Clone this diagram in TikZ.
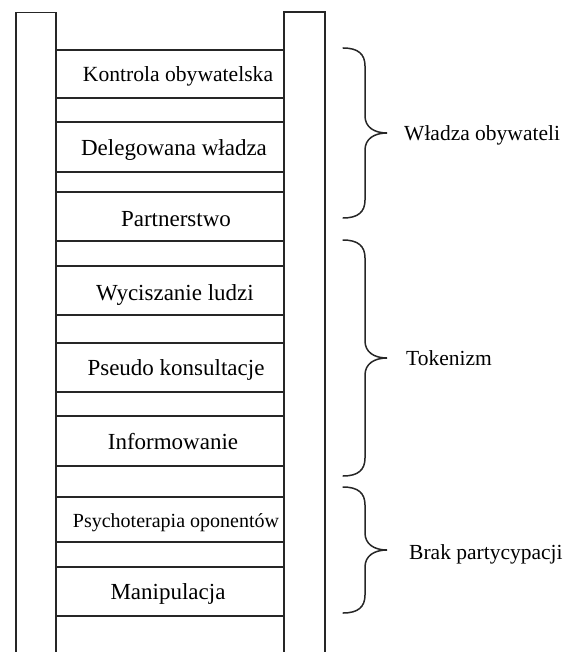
\documentclass[tikz,border=0pt]{standalone}
\usepackage{fontspec}
\setmainfont{Liberation Serif}
\newcommand{\bracedraw}[4]{% x-left, top, tip, bottom
  \draw[brace] (#1,#2) .. controls ({#1+15},#2) and ({#1+22},{#2+6}) .. ({#1+22},{#2+18})
    -- ({#1+22},{#3-17}) .. controls ({#1+22},{#3-6}) and ({#1+31},#3) .. ({#1+44},#3)
    .. controls ({#1+31},#3) and ({#1+22},{#3+6}) .. ({#1+22},{#3+17})
    -- ({#1+22},{#4-18}) .. controls ({#1+22},{#4-6}) and ({#1+15},#4) .. (#1,#4);}
\begin{document}
\begin{tikzpicture}[x=1pt,y=-1pt,
  rail/.style={draw=black!85, line width=1.3pt},
  rungbox/.style={draw=black!85, line width=1.2pt, minimum width=228pt, inner sep=0pt, outer sep=0pt},
  brace/.style={draw=black!85, line width=1.5pt, line cap=round},
  lbl/.style={inner sep=0pt, anchor=base, font=\fontsize{23}{26}\selectfont},
  grp/.style={inner sep=0pt, anchor=base west, font=\fontsize{21.5}{24}\selectfont}]
\useasboundingbox (0,0) rectangle (580,652);
% rails
\draw[rail] (16,652) -- (16,12.5) -- (56,12.5) -- (56,652);
\draw[rail] (284,652) -- (284,12) -- (325,12) -- (325,652);
% rungs
\node[rungbox, minimum height=48pt] (r1) at (170,74) {};
\node[rungbox, minimum height=50pt] (r2) at (170,147) {};
\node[rungbox, minimum height=49pt] (r3) at (170,216.5) {};
\node[rungbox, minimum height=49pt] (r4) at (170,290.5) {};
\node[rungbox, minimum height=49pt] (r5) at (170,367.5) {};
\node[rungbox, minimum height=50pt] (r6) at (170,441) {};
\node[rungbox, minimum height=45pt] (r7) at (170,519.5) {};
\node[rungbox, minimum height=49pt] (r8) at (170,591.5) {};
% rung texts
\node[lbl, font=\fontsize{21.6}{24}\selectfont] (t1) at (178,82) {Kontrola obywatelska};
\node[lbl] (t2) at (174,156) {Delegowana władza};
\node[lbl] (t3) at (176,226) {Partnerstwo};
\node[lbl] (t4) at (175,300) {Wyciszanie ludzi};
\node[lbl] (t5) at (176,375) {Pseudo konsultacje};
\node[lbl] (t6) at (173,449) {Informowanie};
\node[lbl, font=\fontsize{20}{22}\selectfont] (t7) at (176,527) {Psychoterapia oponentów};
\node[lbl] (t8) at (168,599) {Manipulacja};
% braces
\bracedraw{343}{48}{133}{218}
\bracedraw{343}{240}{358}{476}
\bracedraw{343}{487}{550}{613}
% group labels
\node[grp] (g1) at (404,141) {Władza obywateli};
\node[grp] (g2) at (406,365) {Tokenizm};
\node[grp] (g3) at (409,559) {Brak partycypacji};
\end{tikzpicture}
\end{document}
